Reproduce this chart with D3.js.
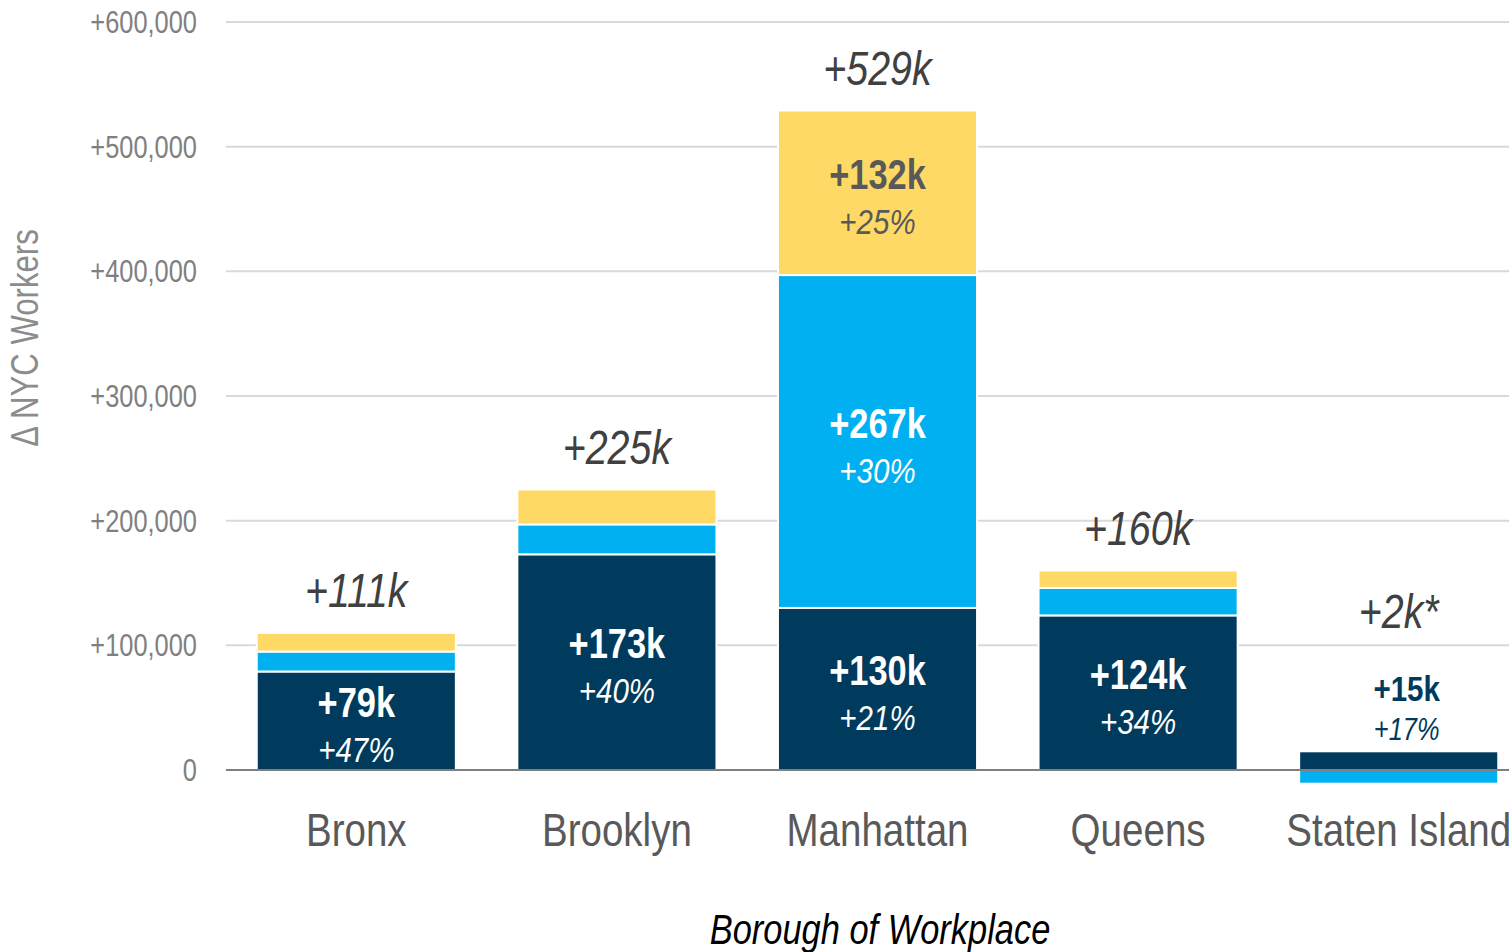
<!DOCTYPE html>
<html lang="en">
<head>
  <meta charset="utf-8">
  <style>
    html, body {
      margin: 0;
      padding: 0;
      background: #fff;
      overflow: hidden;
    }
    svg {
      display: block;
      font-family: "Liberation Sans", Arial, sans-serif;
    }
  </style>
</head>
<body>
<svg width="1509" height="952"></svg>

<script src="https://cdnjs.cloudflare.com/ajax/libs/d3/7.8.5/d3.min.js"></script>
<script>
// data
const boroughs = ["Bronx", "Brooklyn", "Manhattan", "Queens", "Staten Island"];
const seriesKeys = ["navy", "blue", "yellow"];
const navyVals = [79000, 173000, 130000, 124000, 15000];
const blueVals = [16000, 24000, 267000, 22000, -11000];
const yellowVals = [15000, 28000, 132000, 14000, 0];
const totalLabels = ["+111k", "+225k", "+529k", "+160k", "+2k*"];
const navyLabels = ["+79k", "+173k", "+130k", "+124k", "+15k"];
const navyPct = ["+47%", "+40%", "+21%", "+34%", "+17%"];
const blueLabels = [null, null, "+267k", null, null];
const bluePct = [null, null, "+30%", null, null];
const yellowLabels = [null, null, "+132k", null, null];
const yellowPct = [null, null, "+25%", null, null];
const yTicks = [0, 100000, 200000, 300000, 400000, 500000, 600000];

const colors = { navy: "#003a5d", blue: "#00b0f0", yellow: "#ffd966" };
const labelColors = { navy: "#ffffff", blue: "#ffffff", yellow: "#595959" };

const svg = d3.select("svg");
const width = 1509, height = 952;
const margin = { top: 22, right: -20, bottom: 182, left: 226 };
const NARROW = 0.82; // no Arial Narrow here, so squeeze Liberation Sans

const x = d3.scaleBand()
  .domain(boroughs)
  .range([margin.left, width - margin.right])
  .paddingInner(0.236)
  .paddingOuter(0.118);

const y = d3.scaleLinear()
  .domain([0, 600000])
  .range([height - margin.bottom, margin.top]);

// narrow text helper
function narrowText(g, px, py, txt) {
  return g.append("text")
    .attr("transform", `translate(${px},${py}) scale(${NARROW},1)`)
    .text(txt);
}

const rows = boroughs.map((b, i) => ({
  borough: b,
  navy: navyVals[i], blue: blueVals[i], yellow: yellowVals[i],
  labels: {
    navy: [navyLabels[i], navyPct[i]],
    blue: [blueLabels[i], bluePct[i]],
    yellow: [yellowLabels[i], yellowPct[i]]
  },
  total: totalLabels[i]
}));

const stack = d3.stack().keys(seriesKeys).offset(d3.stackOffsetDiverging);
const series = stack(rows);

// gridlines
svg.append("g")
  .selectAll("line")
  .data(yTicks.filter(d => d !== 0))
  .join("line")
  .attr("x1", margin.left)
  .attr("x2", width)
  .attr("y1", d => y(d))
  .attr("y2", d => y(d))
  .attr("stroke", "#d9d9d9")
  .attr("stroke-width", 2);

// y tick labels
const tickG = svg.append("g")
  .attr("text-anchor", "end")
  .attr("fill", "#808080")
  .attr("font-size", 31);
yTicks.forEach(d => {
  narrowText(tickG, 197, y(d) + 11, d === 0 ? "0" : "+" + d3.format(",")(d));
});

// bars
svg.append("g")
  .selectAll("g")
  .data(series)
  .join("g")
  .attr("fill", s => colors[s.key])
  .selectAll("rect")
  .data(s => s.map(d => ({ d, key: s.key })))
  .join("rect")
  .attr("x", p => x(p.d.data.borough))
  .attr("width", x.bandwidth())
  .attr("y", p => y(Math.max(p.d[0], p.d[1])))
  .attr("height", p => Math.abs(y(p.d[0]) - y(p.d[1])))
  .attr("stroke", "#fff")
  .attr("stroke-width", 2);

// zero line
svg.append("line")
  .attr("x1", margin.left)
  .attr("x2", width)
  .attr("y1", y(0))
  .attr("y2", y(0))
  .attr("stroke", "#7f7f7f")
  .attr("stroke-width", 2);

// segment labels
const segLabels = svg.append("g").attr("text-anchor", "middle");
series.forEach(s => {
  s.forEach(d => {
    const [main, pct] = d.data.labels[s.key];
    if (!main) return;
    const top = y(Math.max(d[0], d[1]));
    const bot = y(Math.min(d[0], d[1]));
    const small = bot - top < 60;
    const cx = x(d.data.borough) + x.bandwidth() / 2 + (small ? 8 : 0);
    // thin bar: put the labels above it in bar colour
    const cy = small ? top - 42 : (top + bot) / 2 + 2;
    const fill = small ? colors[s.key] : labelColors[s.key];
    narrowText(segLabels, cx, cy - 21 + (small ? 13 : 15), main)
      .attr("font-weight", "bold")
      .attr("font-size", small ? 36 : 42)
      .attr("fill", fill);
    narrowText(segLabels, cx, cy + (small ? 20 : 26) + (small ? 11 : 13), pct)
      .attr("font-style", "italic")
      .attr("font-size", small ? 31 : 36)
      .attr("fill", fill);
  });
});

// totals
const tops = rows.map(r => seriesKeys.reduce((a, k) => a + Math.max(0, r[k]), 0));
const totG = svg.append("g")
  .attr("text-anchor", "middle")
  .attr("font-style", "italic")
  .attr("font-size", 48)
  .attr("fill", "#404040");
rows.forEach((d, i) => {
  const py = d.borough === "Staten Island" ? y(tops[i]) - 123 : y(tops[i]) - 26;
  narrowText(totG, x(d.borough) + x.bandwidth() / 2, py, d.total);
});

// category labels
const catG = svg.append("g")
  .attr("text-anchor", "middle")
  .attr("font-size", 47)
  .attr("fill", "#595959");
boroughs.forEach(b => narrowText(catG, x(b) + x.bandwidth() / 2, 846, b));

// axis titles
svg.append("text")
  .attr("transform", `translate(38,338) rotate(-90) scale(${NARROW},1)`)
  .attr("text-anchor", "middle")
  .attr("font-size", 38)
  .attr("fill", "#8c8c8c")
  .text("Δ NYC Workers");

narrowText(svg, 880, 944, "Borough of Workplace")
  .attr("text-anchor", "middle")
  .attr("font-style", "italic")
  .attr("font-size", 42)
  .attr("fill", "#000");
</script>
</body>
</html>
